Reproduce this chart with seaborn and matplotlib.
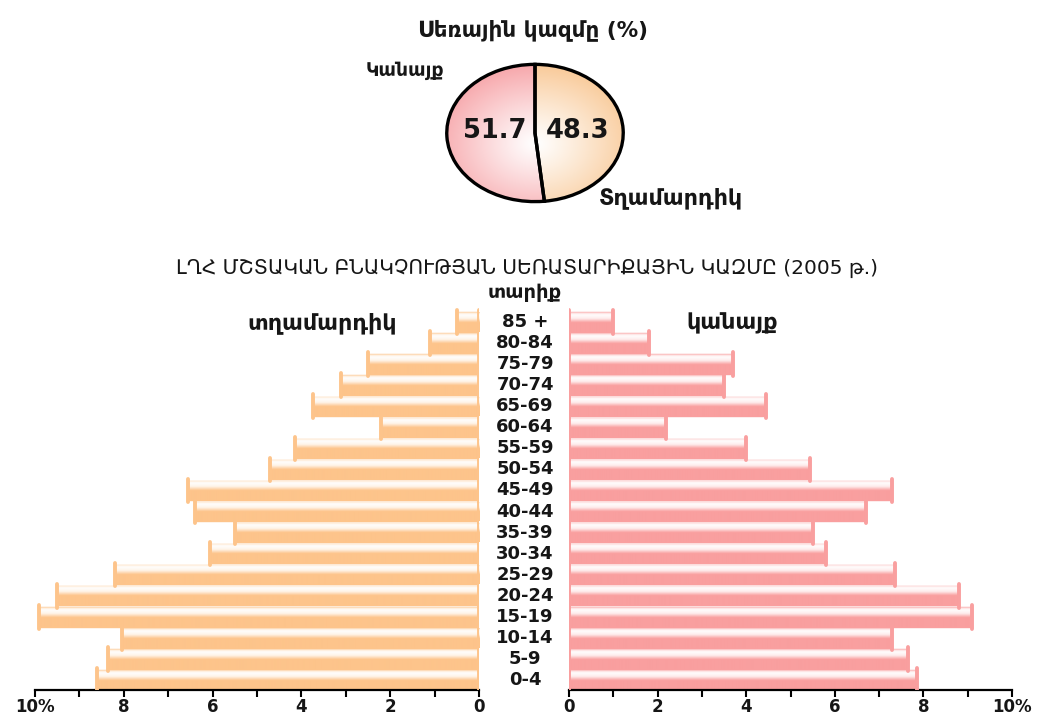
import numpy as np
import matplotlib
matplotlib.use("Agg")
import matplotlib.pyplot as plt
import matplotlib.colors as mcolors
import matplotlib.transforms as mtransforms
from matplotlib.ticker import MultipleLocator
import seaborn as sns

# Age groups, top to bottom
ages = ["85 +", "80-84", "75-79", "70-74", "65-69", "60-64", "55-59", "50-54",
        "45-49", "40-44", "35-39", "30-34", "25-29", "20-24", "15-19", "10-14",
        "5-9", "0-4"]
# Share of population (%) by age group
men = [0.5, 1.1, 2.5, 3.1, 3.75, 2.2, 4.15, 4.7, 6.55, 6.4, 5.5, 6.05,
       8.2, 9.5, 9.9, 8.05, 8.35, 8.6]
women = [1.0, 1.8, 3.7, 3.5, 4.45, 2.2, 4.0, 5.45, 7.3, 6.7, 5.5, 5.8,
         7.35, 8.8, 9.1, 7.3, 7.65, 7.85]

# Sex composition (%)
sex_labels = ["Կանայք", "Տղամարդիկ"]
sex_shares = [51.7, 48.3]

left_ticks = [0, 2, 4, 6, 8, 10]
left_ticklabels = ["0", "2", "4", "6", "8", "10%"]
right_ticklabels = ["0", "2", "4", "6", "8", "10%"]

MEN_COLOR = "#fdc48b"
WOMEN_COLOR = "#f99f9f"
INK = "#161616"

sns.set_style("white")
plt.rcParams["font.family"] = ["DejaVu Sans"]

W, H = 1042, 716
fig = plt.figure(figsize=(W / 100, H / 100), dpi=100)


def fx(px):
    return px / W


def fy(py):
    return 1 - py / H


def shade_bars(ax, color):
    """Overlay a glossy vertical gradient on every bar of the axes."""
    rgb = np.array(mcolors.to_rgb(color))
    t = np.linspace(0, 1, 80)
    w = np.interp(t, [0, 0.08, 0.16, 0.32, 0.52, 1.0],
                  [0.25, 0.85, 0.97, 0.8, 0.0, 0.0])
    grad = rgb[None, :] * (1 - w[:, None]) + w[:, None]
    grad = grad[:, None, :]
    for p in list(ax.patches):
        x0, y0 = p.get_x(), p.get_y()
        bw, bh = p.get_width(), p.get_height()
        im = ax.imshow(grad, extent=(x0, x0 + bw, y0 + bh, y0), origin="upper",
                       aspect="auto", interpolation="bilinear",
                       zorder=p.get_zorder() + 0.1)
        im.set_clip_path(p)


def style_axis(ax, xlim, labels):
    ax.set_xlim(*xlim)
    ax.set_ylim(len(ages) - 1 + 0.475, -0.71)
    ax.set_xlabel("")
    ax.set_ylabel("")
    sns.despine(ax=ax, left=True, top=True, right=True)
    ax.spines["bottom"].set_color("black")
    ax.spines["bottom"].set_linewidth(1.6)
    ax.xaxis.set_minor_locator(MultipleLocator(1))
    ax.set_xticks(left_ticks, labels=labels)
    ax.tick_params(axis="x", which="both", bottom=True, direction="out",
                   length=5, width=1.5, color="black")
    ax.tick_params(axis="x", which="major", labelsize=12, pad=0.5,
                   labelcolor=INK)
    for lab in ax.get_xticklabels():
        lab.set_fontweight("bold")
    ax.tick_params(axis="y", left=False, labelleft=False)
    ax.patch.set_alpha(0)


def draw_side(ax, values, color):
    sns.barplot(x=values, y=ages, order=ages, orient="h", color=color,
                saturation=1, width=0.92, ax=ax, edgecolor=color, linewidth=1)
    shade_bars(ax, color)
    pos = np.arange(len(ages))
    ax.vlines(values, pos - 0.56, pos + 0.56, color=color, lw=2.8,
              capstyle="round", zorder=4)
    ax.vlines(np.zeros(len(ages)), pos - 0.56, pos + 0.56, color=color,
              lw=2.8, capstyle="round", zorder=4)


# Men on the left (axis runs from 10 down to 0)
axL = fig.add_axes([fx(35), fy(690), fx(479) - fx(35), fy(307) - fy(690)])
draw_side(axL, men, MEN_COLOR)
style_axis(axL, (10, 0), left_ticklabels)

# Women on the right
axR = fig.add_axes([fx(569), fy(690), fx(1012) - fx(569), fy(307) - fy(690)])
draw_side(axR, women, WOMEN_COLOR)
style_axis(axR, (0, 10), right_ticklabels)

# Age group labels in the central column
trans = mtransforms.blended_transform_factory(fig.transFigure, axR.transData)
for i, a in enumerate(ages):
    fig.text(fx(525), i, a, transform=trans, ha="center", va="center",
             fontsize=13, fontweight="bold", color=INK)

fig.text(fx(525), fy(292), "տարիք", ha="center", va="center",
         fontsize=14, fontweight="bold", color=INK)
fig.text(fx(527), fy(268), "ԼՂՀ ՄՇՏԱԿԱՆ ԲՆԱԿՉՈՒԹՅԱՆ ՍԵՌԱՏԱՐԻՔԱՅԻՆ ԿԱԶՄԸ (2005 թ.)",
         ha="center", va="center", fontsize=14.5, color=INK)
fig.text(fx(322), fy(323), "տղամարդիկ", ha="center", va="center",
         fontsize=16, fontweight="bold", color=INK)
fig.text(fx(732), fy(323), "կանայք", ha="center", va="center",
         fontsize=16, fontweight="bold", color=INK)

# Pie chart of sex composition, drawn as an ellipse
axP = fig.add_axes([fx(445), fy(203), fx(625) - fx(445), fy(63) - fy(203)])
pie_colors = ["#f7a7ab", "#f9ca99"]
wedges, _ = axP.pie(sex_shares, colors=pie_colors, startangle=90,
                    counterclock=True, radius=1,
                    wedgeprops=dict(linewidth=0))
yy, xx = np.mgrid[1:-1:200j, -1:1:200j]
r = np.clip(np.hypot(xx, yy + 0.15) / 1.15, 0, 1)
for wdg, col in zip(wedges, pie_colors):
    rgb = np.array(mcolors.to_rgb(col))
    k = np.clip(r ** 1.1, 0, 1)[..., None]
    img = (1 - k) * np.array([1, 1, 1]) + k * rgb
    im = axP.imshow(img, extent=(-1, 1, -1, 1), origin="upper",
                    aspect="auto", interpolation="bilinear", zorder=2)
    im.set_clip_path(wdg)
axP.pie(sex_shares, colors=["none", "none"], startangle=90, counterclock=True,
        radius=1, wedgeprops=dict(linewidth=2.4, edgecolor="black",
                                  facecolor="none", zorder=3))
axP.set_aspect("auto")
axP.set_xlim(-1.02, 1.02)
axP.set_ylim(-1.02, 1.02)
axP.axis("off")

fig.text(fx(495), fy(131), f"{sex_shares[0]}", ha="center", va="center",
         fontsize=18.5, fontweight="bold", color=INK)
fig.text(fx(578), fy(131), f"{sex_shares[1]}", ha="center", va="center",
         fontsize=18.5, fontweight="bold", color=INK)
fig.text(fx(533), fy(30), "Սեռային կազմը (%)", ha="center", va="center",
         fontsize=15.5, fontweight="bold", color=INK)
fig.text(fx(405), fy(70), sex_labels[0], ha="center", va="center",
         fontsize=13.5, fontweight="bold", color=INK)
fig.text(fx(671), fy(198), sex_labels[1], ha="center", va="center",
         fontsize=16, fontweight="bold", color=INK)

fig.savefig("out.png", dpi=100)
